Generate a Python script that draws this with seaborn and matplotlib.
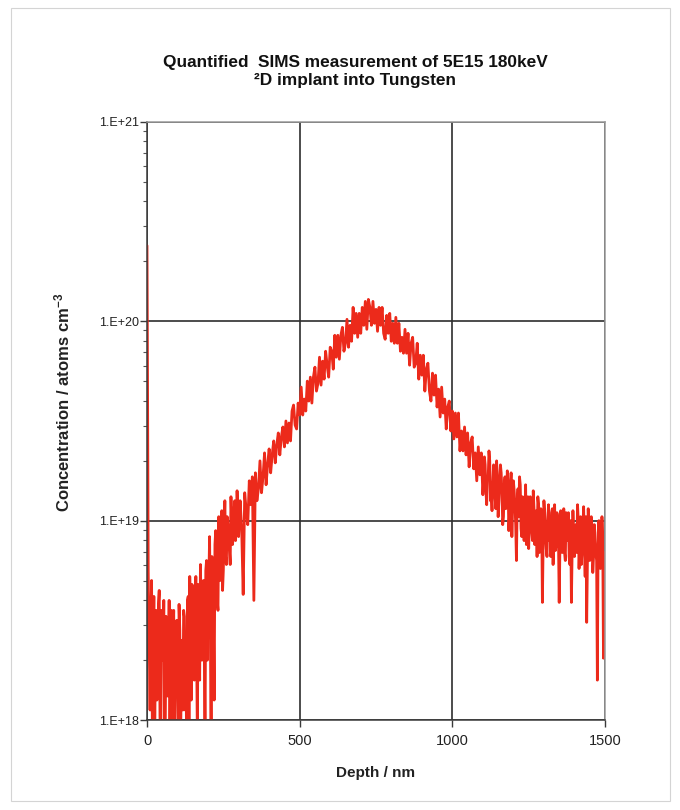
import numpy as np
import pandas as pd
import matplotlib
matplotlib.use("Agg")
import matplotlib.pyplot as plt
import seaborn as sns
from matplotlib.ticker import FixedLocator, FixedFormatter, LogLocator, NullFormatter
from matplotlib.patches import Rectangle

# ---------------- data ----------------
title_lines = ["Quantified  SIMS measurement of 5E15 180keV", "\u00b2D implant into Tungsten"]
x_label = "Depth / nm"
y_label = "Concentration / atoms cm$^{-3}$"
x_ticks = [0, 500, 1000, 1500]
y_ticks = [1e18, 1e19, 1e20, 1e21]
y_tick_labels = ["1.E+18", "1.E+19", "1.E+20", "1.E+21"]

# depth sampling (nm): surface points, then every 5 nm
surface_depth = [0, 1, 2, 3, 4]
step_depth = list(range(5, 1501, 5))

# log10 of concentration (atoms cm^-3)
surface_log = [20.38, 20.05, 19.60, 19.10, 18.75]
# 5 .. 145 nm  (low background)
seg_a = [18.60, 18.05, 18.70, 18.30, 17.80, 18.55, 18.20, 18.65, 17.85, 18.45,
         18.60, 18.00, 18.50, 18.25, 17.80, 18.55, 18.40, 17.90, 18.48, 18.20,
         18.58, 17.85, 18.40, 18.55, 18.05, 17.80, 18.62, 18.72, 18.10]
# 150 .. 300 nm (start of rise)
seg_b = [18.65, 18.20, 18.72, 17.90, 18.60, 18.78, 18.30, 18.70, 17.85, 18.80,
         18.55, 18.92, 17.85, 18.75, 18.10, 18.95, 18.60, 19.02, 18.70, 19.05,
         18.75, 19.10, 18.78, 18.98, 18.85, 19.12, 18.88, 19.05, 18.90, 19.15,
         18.92]
# 305 .. 450 nm
seg_c = [19.10, 18.96, 18.63, 19.14, 19.05, 18.98, 19.20, 19.08, 19.22, 18.60,
         19.24, 19.10, 19.16, 19.30, 19.14, 19.22, 19.34, 19.18, 19.28, 19.36,
         19.24, 19.33, 19.40, 19.29, 19.38, 19.44, 19.33, 19.42, 19.47, 19.37]
# 455 .. 700 nm
seg_d = [19.50, 19.39, 19.49, 19.40, 19.55, 19.58, 19.48, 19.46, 19.59, 19.53,
         19.67, 19.53, 19.61, 19.55, 19.70, 19.60, 19.72, 19.59, 19.72, 19.77,
         19.65, 19.69, 19.82, 19.68, 19.80, 19.71, 19.85, 19.78, 19.72, 19.87,
         19.85, 19.76, 19.93, 19.82, 19.93, 19.81, 19.93, 19.97, 19.85, 19.89,
         20.01, 19.87, 19.98, 19.90, 20.07, 19.94, 20.04, 19.92, 20.04, 19.94]
# 705 .. 850 nm (peak)
seg_e = [20.07, 19.98, 20.10, 19.96, 20.11, 20.07, 19.98, 20.10, 19.99, 20.06,
         19.95, 20.07, 19.98, 20.07, 19.94, 19.91, 20.03, 19.94, 20.04, 19.90,
         19.99, 19.89, 20.02, 19.89, 19.99, 19.85, 19.92, 19.84, 19.96, 19.84]
# 855 .. 1100 nm
seg_f = [19.94, 19.78, 19.89, 19.92, 19.77, 19.79, 19.89, 19.71, 19.83, 19.73,
         19.83, 19.65, 19.76, 19.79, 19.65, 19.60, 19.74, 19.63, 19.73, 19.57,
         19.66, 19.52, 19.67, 19.54, 19.61, 19.46, 19.57, 19.60, 19.45, 19.55,
         19.41, 19.54, 19.42, 19.54, 19.35, 19.45, 19.35, 19.47, 19.33, 19.44,
         19.27, 19.39, 19.42, 19.26, 19.34, 19.20, 19.37, 19.23, 19.34, 19.13]
# 1105 .. 1500 nm (tail)
seg_g = [19.32, 19.15, 19.22, 19.35, 19.10, 19.05, 19.28, 19.12, 19.30, 19.02,
         19.20, 19.24, 18.98, 19.18, 19.06, 19.25, 18.95, 19.15, 18.92, 19.20,
         19.08, 18.80, 19.16, 19.22, 18.96, 19.12, 18.90, 19.18, 19.02, 18.86,
         19.12, 18.95, 19.15, 18.88, 19.05, 19.12, 18.84, 19.06, 18.59, 19.10,
         18.92, 18.82, 19.08, 18.95, 19.04, 18.78, 19.08, 18.88, 19.02, 18.59,
         19.05, 18.84, 19.06, 18.80, 18.96, 19.04, 18.78, 18.59, 19.05, 18.82,
         18.98, 19.08, 18.76, 19.02, 18.85, 19.07, 18.72, 18.49, 19.06, 18.80,
         19.02, 18.74, 18.98, 18.84, 18.20, 19.00, 18.76, 19.02, 18.31, 18.82]

# extra in-between readings (every 5 nm, offset by 2.5 nm) in the noisy regions
mid_low_depth = [d + 2.5 for d in range(5, 300, 5)]          # 7.5 .. 297.5
mid_low_log = [18.35, 18.50, 17.95, 18.62, 18.40, 18.10, 18.58, 18.02, 18.55, 18.30,
               17.88, 18.52, 18.12, 18.60, 18.35, 17.90, 18.55, 18.25, 18.50, 17.82,
               18.45, 18.30, 18.05, 18.52, 18.35, 18.60, 17.95, 18.50, 18.68,
               18.45, 18.55, 18.35, 18.68, 18.20, 18.55, 18.62, 18.40, 18.75, 18.30,
               18.70, 18.45, 18.82, 18.50, 18.88, 18.72, 18.55, 18.90, 18.80, 18.65,
               18.95, 18.82, 19.02, 18.90, 18.78, 19.00, 18.92, 19.10, 18.98, 19.05]
mid_tail_depth = [d + 2.5 for d in range(1100, 1500, 5)]     # 1102.5 .. 1497.5
mid_tail_log = [19.20, 19.28, 19.08, 19.22, 19.30, 19.12, 19.18, 19.26, 19.06, 19.20,
                19.10, 19.28, 19.14, 19.02, 19.22, 19.10, 19.18, 19.04, 19.24, 19.08,
                19.15, 18.98, 19.10, 19.02, 19.18, 18.92, 19.08, 19.00, 18.88, 19.12,
                19.00, 19.10, 18.90, 19.06, 18.96, 18.82, 19.08, 18.94, 19.02, 18.90,
                19.04, 18.86, 19.00, 18.90, 18.82, 19.06, 18.94, 18.85, 19.04, 18.92,
                18.88, 19.00, 18.92, 18.84, 19.04, 18.90, 18.82, 19.00, 18.86, 18.94,
                18.92, 18.84, 19.00, 18.90, 18.78, 18.96, 18.88, 19.02, 18.80, 18.92,
                18.88, 18.96, 18.82, 18.90, 18.80, 18.94, 18.86, 18.78, 18.92, 18.84]

depth_nm = surface_depth + step_depth + mid_low_depth + mid_tail_depth
log_conc = (surface_log + seg_a + seg_b + seg_c + seg_d + seg_e + seg_f + seg_g
            + mid_low_log + mid_tail_log)
assert len(depth_nm) == len(log_conc), (len(depth_nm), len(log_conc))

df = pd.DataFrame({"depth": depth_nm, "conc": np.power(10.0, log_conc)})

# ---------------- style ----------------
sns.set_theme(style="white")
plt.rcParams["font.family"] = ["Liberation Sans", "DejaVu Sans"]
plt.rcParams["mathtext.default"] = "regular"

W, H = 680, 810
fig = plt.figure(figsize=(W / 100, H / 100), dpi=100)
fig.patch.set_facecolor("white")
fig.patches.append(Rectangle((11 / W, 1 - 801 / H), 659 / W, 793 / H,
                             transform=fig.transFigure, fill=False,
                             edgecolor="#d4d4d4", lw=0.8))

ax = fig.add_axes([147 / W, 1 - 720 / H, 458 / W, 598 / H])
ax.set_yscale("log")
sns.lineplot(data=df, x="depth", y="conc", ax=ax, color="#ec2a1b",
             lw=2.0, estimator=None, sort=True, legend=False)

ax.set_xlim(0, 1500)
ax.set_ylim(1e18, 1e21)
ax.xaxis.set_major_locator(FixedLocator(x_ticks))
ax.yaxis.set_major_locator(FixedLocator(y_ticks))
ax.yaxis.set_major_formatter(FixedFormatter(y_tick_labels))
ax.yaxis.set_minor_locator(LogLocator(base=10, subs=np.arange(2, 10)))
ax.yaxis.set_minor_formatter(NullFormatter())

ax.grid(True, which="major", color="#2e2e2e", lw=1.2)
ax.grid(False, which="minor")
ax.set_axisbelow(True)

for side in ["left", "bottom"]:
    ax.spines[side].set_color("#3a3a3a")
    ax.spines[side].set_linewidth(1.1)
for side in ["top", "right"]:
    ax.spines[side].set_color("#9a9a9a")
    ax.spines[side].set_linewidth(1.1)

ax.tick_params(axis="both", which="major", direction="out", length=5,
               width=1, color="#3a3a3a", labelcolor="#222222",
               left=True, bottom=True)
ax.tick_params(axis="y", which="major", labelsize=9, pad=1)
ax.tick_params(axis="x", which="major", labelsize=10.5, pad=5)
ax.tick_params(axis="y", which="minor", direction="out", length=3,
               width=0.8, color="#555555", left=True)

ax.set_xlabel(x_label, fontsize=11, fontweight="bold", color="#222222", labelpad=13)
ax.set_ylabel("")
fig.text(62 / W, 1 - 402 / H, y_label, rotation=90, ha="center", va="center",
         fontsize=12, fontweight="bold", color="#222222")

fig.text(355 / W, 1 - 62 / H, title_lines[0], ha="center", va="center",
         fontsize=12.4, fontweight="bold", color="#111111")
fig.text(355 / W, 1 - 80 / H, title_lines[1], ha="center", va="center",
         fontsize=12.4, fontweight="bold", color="#111111")

fig.savefig("out.png", dpi=100, facecolor="white")
